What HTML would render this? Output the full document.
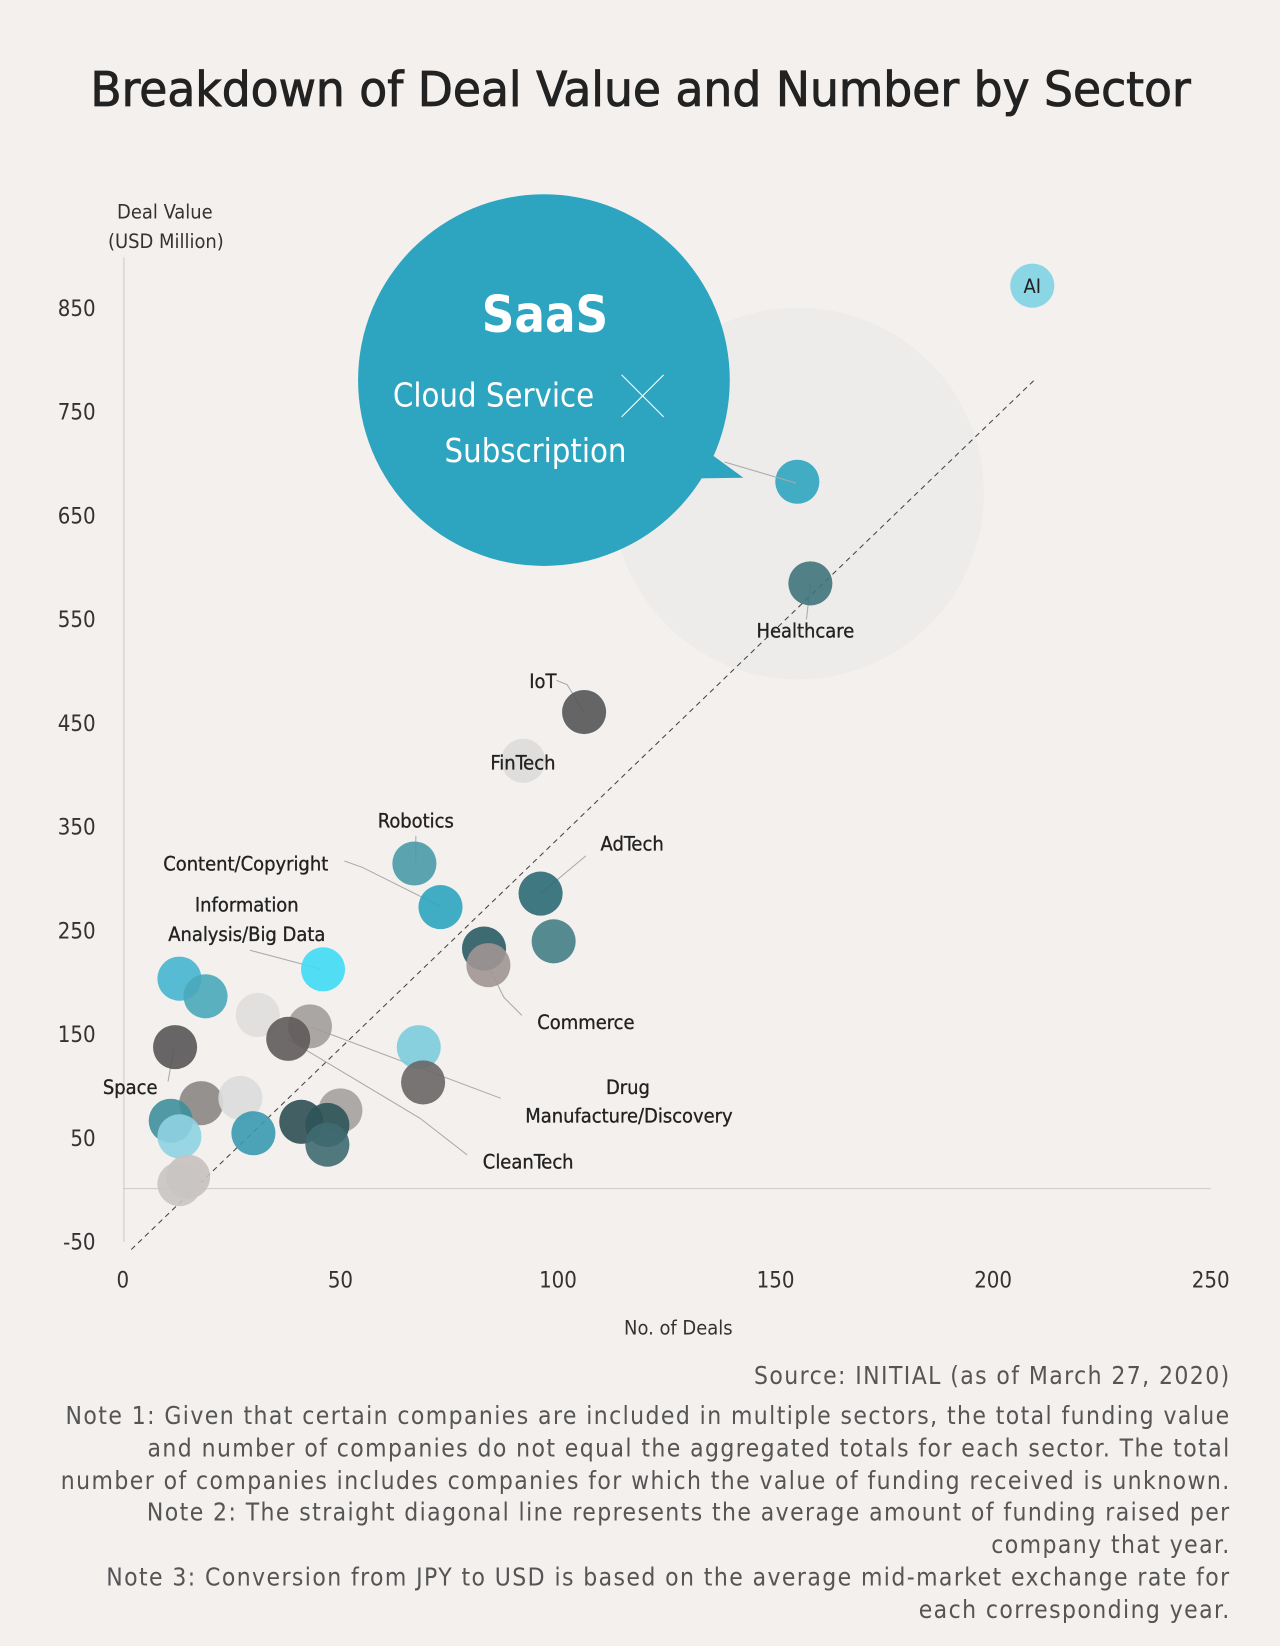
<!DOCTYPE html>
<html><head><meta charset="utf-8"><style>
html,body{margin:0;padding:0;background:#f3f0ee;}
svg{display:block;font-family:"DejaVu Sans Condensed","Liberation Sans",sans-serif;}
</style></head><body>
<svg id="chart" width="1280" height="1646" viewBox="0 0 1219 1567.6" xmlns="http://www.w3.org/2000/svg">
<rect width="1219" height="1568" fill="#f3f0ee"/>
<text x="610" y="101" text-anchor="middle" font-size="46" fill="#222" stroke="#222" stroke-width="0.8" textLength="1048" lengthAdjust="spacingAndGlyphs">Breakdown of Deal Value and Number by Sector</text>
<text x="157" y="208" text-anchor="middle" font-size="19" fill="#333">Deal Value</text>
<text x="158" y="236" text-anchor="middle" font-size="19" fill="#333">(USD Million)</text>
<text x="646" y="1271" text-anchor="middle" font-size="19" fill="#333">No. of Deals</text>
<line x1="118" y1="245" x2="118" y2="1183" stroke="#ccc" stroke-width="1"/>
<g id="ticks"></g>
<circle cx="760" cy="470" r="177" fill="#eeecea"/>
<line x1="117" y1="1132" x2="1153" y2="1132" stroke="#ccc" stroke-width="1"/>
<line x1="125" y1="1190" x2="985" y2="362" stroke="#444" stroke-width="1" stroke-dasharray="5,4"/>
<g id="leaders" stroke="#aaa" stroke-width="1" fill="none"></g>
<g id="bubbles"></g>
<g>
<circle cx="518" cy="362" r="177" fill="#2ea5c0"/>
<polygon points="660,420 708,455 640,456" fill="#2ea5c0"/>
<line x1="690" y1="440" x2="758" y2="460" stroke="#aaa" stroke-width="1"/>
<text x="519" y="316" text-anchor="middle" font-size="48" font-weight="bold" fill="#fff">SaaS</text>
<text x="470" y="387" text-anchor="middle" font-size="31" fill="#fff">Cloud Service</text>
<line x1="592" y1="357" x2="632" y2="397" stroke="#fff" stroke-width="1"/>
<line x1="632" y1="357" x2="592" y2="397" stroke="#fff" stroke-width="1"/>
<text x="510" y="440" text-anchor="middle" font-size="31" fill="#fff">Subscription</text>
</g>
<g id="labels" font-size="19" fill="#222" stroke="#222" stroke-width="0.3"></g>
<g font-size="23.3" letter-spacing="1.35" fill="#555" text-anchor="end" font-family="DejaVu Sans Condensed, sans-serif">
<text x="1172" y="1318">Source: INITIAL (as of March 27, 2020)</text>
<text x="1172" y="1356">Note 1: Given that certain companies are included in multiple sectors, the total funding value</text>
<text x="1172" y="1387">and number of companies do not equal the aggregated totals for each sector. The total</text>
<text x="1172" y="1418">number of companies includes companies for which the value of funding received is unknown.</text>
<text x="1172" y="1448">Note 2: The straight diagonal line represents the average amount of funding raised per</text>
<text x="1172" y="1479">company that year.</text>
<text x="1172" y="1510">Note 3: Conversion from JPY to USD is based on the average mid-market exchange rate for</text>
<text x="1172" y="1541">each corresponding year.</text>
</g>
</svg>
<script>
const xTicks=[0,50,100,150,200,250];
const yTicks=[850,750,650,550,450,350,250,150,50,-50];
const dealCounts=[209,155,158,106,92,67,73,96,99,83,84,46,13,19,31,43,38,68,12,69,18,27,11,50,41,47,30,13,47,15,13];
const dealValues=[872,683,585,461,414,315,273,286,240,233,217,213,204,187,169,158,146,138,138,104,84,89,67,77,66,63,55,52,44,13,6];
const bubbleColors=["#7fd3e3","#2ea5c0","#3f747c","#555","#dedcda","#4b9aa8","#2ea5c0","#2c6a74","#457e86","#2a5c63","#a09694","#3fdcf5","#46b5d0","#4aa8ba","#e0dedc","#a19d9b","#5f5b5a","#7dccdc","#595556","#6a6666","#8b8684","#dcdcdc","#3e8f9c","#a4a19f","#2f4f53","#2d5459","#3a9ab0","#8fd3e2","#3f6a70","#c6c1bf","#c9c4c2"];
const X=v=>117+v*(1036/250);
const Y=v=>1133.6-v*0.988;
const NS="http://www.w3.org/2000/svg";
const tg=document.getElementById('ticks');
xTicks.forEach(t=>{const e=document.createElementNS(NS,'text');


e.setAttribute('x',X(t));e.setAttribute('y',1226);e.setAttribute('text-anchor','middle');e.setAttribute('font-size','21');e.setAttribute('fill','#333');e.textContent=t;tg.appendChild(e);});
yTicks.forEach(t=>{const e=document.createElementNS(NS,'text');


e.setAttribute('x',91);e.setAttribute('y',Y(t)+7);e.setAttribute('text-anchor','end');e.setAttribute('font-size','21');e.setAttribute('fill','#333');e.textContent=t;tg.appendChild(e);});
const bg=document.getElementById('bubbles');
dealCounts.forEach((d,i)=>{const c=document.createElementNS(NS,'circle');


c.setAttribute('cx',X(d));c.setAttribute('cy',Y(dealValues[i]));c.setAttribute('r',21);c.setAttribute('fill',bubbleColors[i]);c.setAttribute('fill-opacity','0.9');bg.appendChild(c);});
const ai=document.createElementNS(NS,'text');


ai.setAttribute('x',X(dealCounts[0]));ai.setAttribute('y',Y(dealValues[0])+7);ai.setAttribute('text-anchor','middle');ai.setAttribute('font-size','19');ai.setAttribute('fill','#222');ai.textContent='AI';bg.appendChild(ai);
const lg=document.getElementById('labels');
function lab(t,x,y,a){const e=document.createElementNS(NS,'text');


e.setAttribute('x',x);e.setAttribute('y',y);e.setAttribute('text-anchor',a||'middle');e.textContent=t;lg.appendChild(e);}
lab('Healthcare',767,607);lab('IoT',517,655);lab('FinTech',498,733);lab('Robotics',396,788);
lab('Content/Copyright',234,829);lab('AdTech',602,810);lab('Information',235,868);lab('Analysis/Big Data',235,896);
lab('Commerce',558,980);lab('Drug',598,1042);lab('Manufacture/Discovery',599,1069);lab('CleanTech',503,1113);lab('Space',124,1042);
const ld=document.getElementById('leaders');
function ln(p){const e=document.createElementNS(NS,'polyline');


e.setAttribute('points',p);ld.appendChild(e);}
ln('772,555 768,590');ln('530,648 540,652 556,678');ln('396,796 396,822');ln('328,820 345,826 419,863');
ln('558,815 515,851');ln('238,905 306,923');ln('497,967 480,950 465,920');ln('477,1046 296,978');ln('445,1100 400,1065 273,989');ln('160,1030 166,997');
</script>
</body></html>
